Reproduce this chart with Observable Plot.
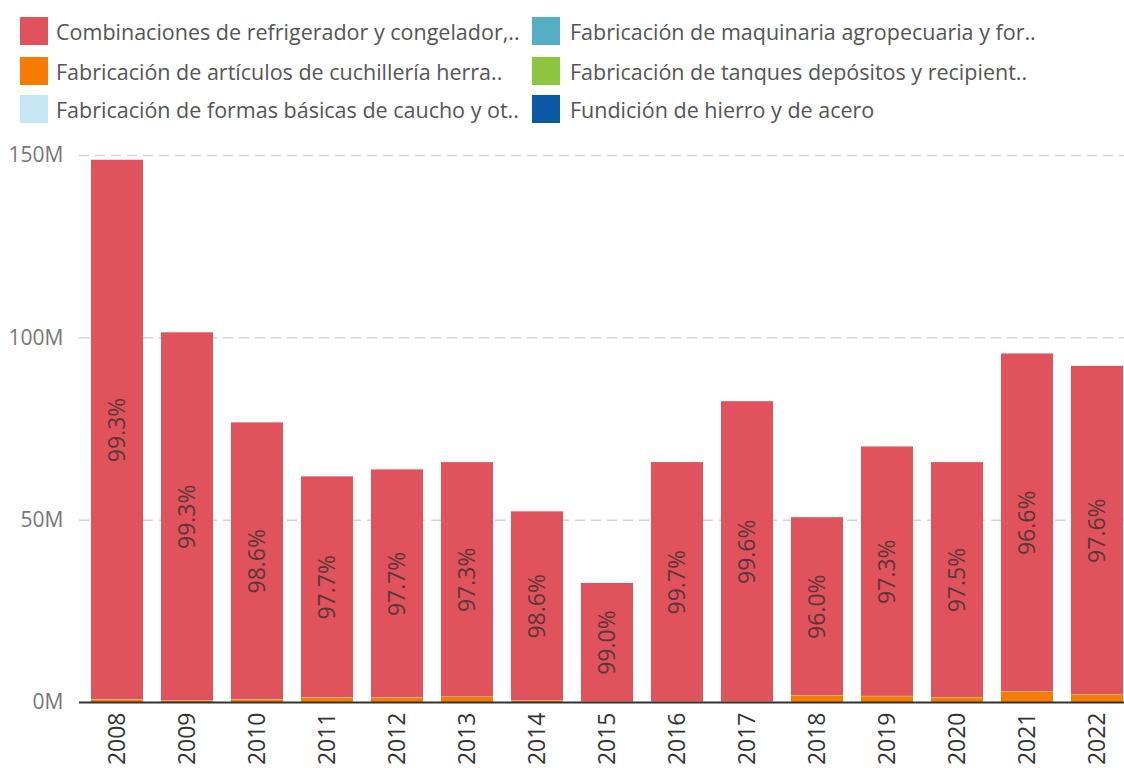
<!DOCTYPE html>
<html><head><meta charset="utf-8">
<script src="https://cdn.jsdelivr.net/npm/d3@7"></script>
<script src="https://cdn.jsdelivr.net/npm/@observablehq/plot@0.6"></script>
<style>
html,body{margin:0;padding:0;background:#fff;overflow:hidden;width:1124px;height:768px;}
#legend{position:absolute;left:0;top:0;width:1124px;height:130px;font-family:"Open Sans",sans-serif;font-size:21.5px;color:#555;}
.item{position:absolute;height:28px;display:flex;align-items:center;white-space:nowrap;}
.sw{width:28px;height:28px;flex:none;}
#chart{position:absolute;left:0;top:130px;}
</style></head>
<body>
<div id="legend"></div>
<div id="chart"></div>
<script>
const years = ["2008","2009","2010","2011","2012","2013","2014","2015","2016","2017","2018","2019","2020","2021","2022"];
const seriesNames = [
  "Combinaciones de refrigerador y congelador,..",
  "Fabricación de artículos de cuchillería herra..",
  "Fabricación de formas básicas de caucho y ot..",
  "Fabricación de maquinaria agropecuaria y for..",
  "Fabricación de tanques depósitos y recipient..",
  "Fundición de hierro y de acero"
];
const seriesColors = ["#e0535d","#f57c00","#c6e6f3","#55afc4","#8cc63f","#0a5aa3"];
// values in millions
const refrigeradores = [147.9,100.9,75.9,60.6,62.5,64.3,51.8,32.4,65.6,82.3,48.8,68.4,64.4,92.6,90.1];
const cuchilleria    = [0.7,0.4,0.7,1.2,1.2,1.4,0.4,0.2,0.15,0.15,1.8,1.6,1.3,2.9,2.0];
const caucho         = [0.04,0.03,0.03,0.03,0.03,0.03,0.03,0.01,0.01,0.01,0.03,0.03,0.03,0.03,0.03];
const maquinaria     = [0.03,0.02,0.02,0.02,0.02,0.02,0.02,0.01,0.01,0.01,0.02,0.02,0.02,0.02,0.02];
const tanques        = [0.02,0.02,0.02,0.02,0.02,0.02,0.02,0.01,0.01,0.01,0.02,0.02,0.02,0.02,0.02];
const fundicion      = [0.01,0.01,0.01,0.01,0.01,0.01,0.01,0.01,0.01,0.01,0.01,0.01,0.01,0.01,0.01];
const shareLabels = ["99.3%","99.3%","98.6%","97.7%","97.7%","97.3%","98.6%","99.0%","99.7%","99.6%","96.0%","97.3%","97.5%","96.6%","97.6%"];
const yTicks = [0,50,100,150];

const seriesValues = [refrigeradores, cuchilleria, caucho, maquinaria, tanques, fundicion];
const long = [];
seriesNames.forEach((s, si) => years.forEach((y, yi) => long.push({year: y, series: s, value: seriesValues[si][yi], label: si === 0 ? shareLabels[yi] : null})));
const stackOrder = [seriesNames[1], seriesNames[2], seriesNames[3], seriesNames[4], seriesNames[5], seriesNames[0]];

// legend
const legend = document.getElementById("legend");
const legendPos = [[20,17],[20,57],[20,95],[532,17],[532,57],[532,95]];
seriesNames.forEach((name, i) => {
  const it = document.createElement("div");
  it.className = "item";
  it.style.left = legendPos[i][0] + "px";
  it.style.top = legendPos[i][1] + "px";
  const sw = document.createElement("div");
  sw.className = "sw";
  sw.style.background = seriesColors[i];
  sw.style.marginRight = (i < 3 ? 8 : 10) + "px";
  const tx = document.createElement("span");
  tx.textContent = name;
  it.appendChild(sw); it.appendChild(tx);
  legend.appendChild(it);
});

const chart = Plot.plot({
  width: 1135,
  height: 638,
  marginLeft: 79,
  marginRight: 0,
  marginTop: 25,
  marginBottom: 66,
  style: {fontFamily: "Open Sans, sans-serif", background: "#fff"},
  x: {type: "band", domain: years, paddingInner: 0.262, paddingOuter: 0.131, label: null},
  y: {domain: [0, 150], label: null},
  color: {domain: seriesNames, range: seriesColors},
  marks: [
    Plot.gridY(yTicks.filter(d => d > 0), {stroke: "#d4d4d4", strokeOpacity: 1, strokeWidth: 1.5, strokeDasharray: "10,6"}),
    Plot.barY(long, {x: "year", y: "value", fill: "series", order: stackOrder}),
    Plot.text(long, Plot.stackY({x: "year", y: "value", z: "series", order: stackOrder, text: "label", rotate: -90, fontSize: 23, fill: "#5e3438", textAnchor: "middle"})),
    Plot.ruleY([0], {stroke: "#333", strokeWidth: 2}),
    Plot.axisY({ticks: yTicks, tickSize: 0, tickPadding: 16, tickFormat: d => d + "M", fontSize: 21, color: "#777"}),
    Plot.axisX({tickRotate: -90, tickSize: 0, tickPadding: 10, fontSize: 23, color: "#333", label: null})
  ]
});
chart.style.maxWidth = "none";
chart.style.overflow = "visible";
document.getElementById("chart").appendChild(chart);
</script>
</body></html>
